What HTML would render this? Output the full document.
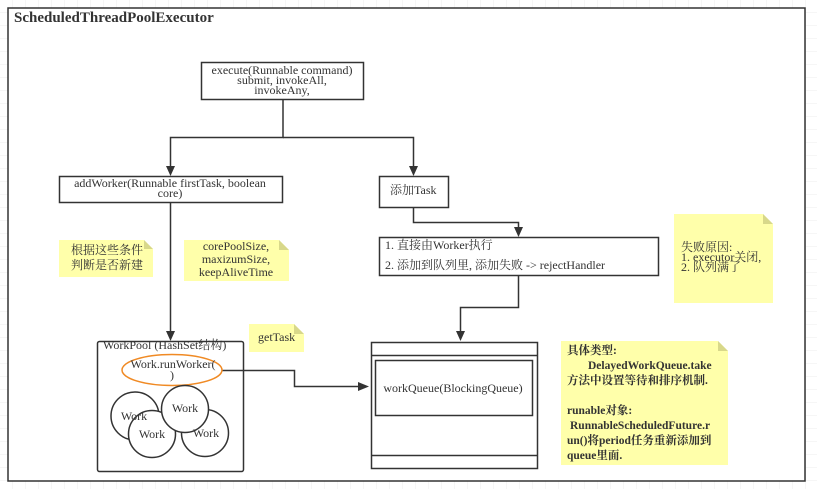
<!DOCTYPE html>
<html><head><meta charset="utf-8"><style>
html,body{margin:0;padding:0;background:#fff}
svg{display:block}
text{font-family:"Liberation Serif","Noto Serif CJK SC",serif;fill:#333}
</style></head><body>
<svg width="817" height="489" xmlns="http://www.w3.org/2000/svg">
<defs>
<pattern id="g" width="13" height="13" patternUnits="userSpaceOnUse"><path d="M13 0V13H0" fill="none" stroke="#ececec" stroke-width="1"/></pattern>
</defs>
<rect width="817" height="489" fill="url(#g)"/>
<rect x="8" y="8" width="797" height="473" fill="#fff" stroke="#333" stroke-width="1.5"/>
<text x="14" y="22" font-size="15" font-weight="bold">ScheduledThreadPoolExecutor</text>

<g fill="none" stroke="#333" stroke-width="1.5">
<rect x="201.5" y="62.5" width="162" height="37"/>
<rect x="59.5" y="176.5" width="223" height="26"/>
<rect x="379.5" y="176.5" width="69" height="31"/>
<rect x="379.5" y="237.5" width="279" height="38"/>
<rect x="371.5" y="342.5" width="166" height="126"/>
<line x1="371" y1="355.5" x2="537" y2="355.5"/>
<line x1="371" y1="455.5" x2="537" y2="455.5"/>
<rect x="375.5" y="360.5" width="157" height="55"/>
<rect x="97.5" y="341.5" width="146" height="130" rx="2"/>
<path d="M283 99V137.5H170.5V168"/>
<path d="M283 137.5H413.5V168"/>
<path d="M413.5 207V222.5H518.5V229"/>
<path d="M518.5 276V307.5H460.5V333"/>
<path d="M170.5 203V333"/>
<path d="M222 370.5H294.5V386.5H360"/>
</g>
<g fill="#333">
<path d="M166 166L170.5 176L175 166Z"/>
<path d="M409 166L413.5 176L418 166Z"/>
<path d="M514 227L518.5 237L523 227Z"/>
<path d="M456 331L460.5 341L465 331Z"/>
<path d="M166 331L170.5 341L175 331Z"/>
<path d="M358 382L369 386.5L358 391Z"/>
</g>

<text font-size="12" text-anchor="middle"><tspan x="282" y="74">execute(Runnable command)</tspan><tspan x="282" y="84">submit, invokeAll,</tspan><tspan x="282" y="94">invokeAny,</tspan></text>
<text font-size="12" text-anchor="middle"><tspan x="170" y="187">addWorker(Runnable firstTask, boolean</tspan><tspan x="170" y="197">core)</tspan></text>
<text x="390" y="194" font-size="12">添加Task</text>
<text font-size="12"><tspan x="385" y="249">1. 直接由Worker执行</tspan><tspan x="385" y="269">2. 添加到队列里, 添加失败 -&gt;  rejectHandler</tspan></text>
<text x="453" y="392" font-size="12" text-anchor="middle">workQueue(BlockingQueue)</text>

<g fill="#ffffaa">
<path d="M59 240H144L153 249V277H59Z"/>
<path d="M184 240H279L289 250V281H184Z"/>
<path d="M249 324H294L304 334V352H249Z"/>
<path d="M674 214H763L773 224V303H674Z"/>
<path d="M561 341H718L728 351V465H561Z"/>
</g>
<g fill="#d8d88a">
<path d="M144 240L153 249H144Z"/><path d="M279 240L289 250H279Z"/><path d="M294 324L304 334H294Z"/><path d="M763 214L773 224H763Z"/><path d="M718 341L728 351H718Z"/>
</g>
<text font-size="12"><tspan x="71" y="254">根据这些条件</tspan><tspan x="71" y="269">判断是否新建</tspan></text>
<text font-size="12" text-anchor="middle"><tspan x="236" y="250">corePoolSize,</tspan><tspan x="236" y="263">maxizumSize,</tspan><tspan x="236" y="276">keepAliveTime</tspan></text>
<text x="258" y="341" font-size="12">getTask</text>
<text font-size="12"><tspan x="681" y="251">失败原因:</tspan><tspan x="681" y="261">1. executor关闭,</tspan><tspan x="681" y="271">2. 队列满了</tspan></text>
<text font-size="11.5" font-weight="bold" fill="#222"><tspan x="567" y="354">具体类型:</tspan><tspan x="588" y="369">DelayedWorkQueue.take</tspan><tspan x="567" y="384">方法中设置等待和排序机制.</tspan><tspan x="567" y="414">runable对象:</tspan><tspan x="570" y="429">RunnableScheduledFuture.r</tspan><tspan x="567" y="444">un()将period任务重新添加到</tspan><tspan x="567" y="459">queue里面.</tspan></text>

<text x="103" y="349" font-size="12">WorkPool (HashSet结构)</text>
<ellipse cx="172" cy="370" rx="50" ry="15.5" fill="#fff" stroke="#f08a24" stroke-width="1.5"/>
<text font-size="12" text-anchor="middle"><tspan x="173" y="368">Work.runWorker(</tspan><tspan x="172" y="379">)</tspan></text>
<g fill="#fff" stroke="#333" stroke-width="1.5">
<circle cx="135" cy="416" r="24"/>
<circle cx="205" cy="433" r="23.5"/>
<circle cx="152" cy="434" r="23.5"/>
<circle cx="185" cy="409" r="23.5"/>
</g>
<text font-size="12" text-anchor="middle"><tspan x="134" y="420">Work</tspan><tspan x="206" y="437">Work</tspan><tspan x="152" y="438">Work</tspan><tspan x="185" y="412">Work</tspan></text>
</svg>
</body></html>
